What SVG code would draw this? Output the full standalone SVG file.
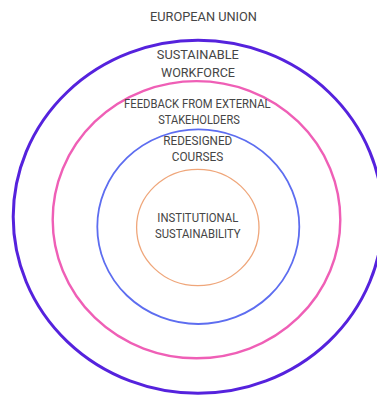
<svg xmlns="http://www.w3.org/2000/svg" width="377" height="397" viewBox="0 0 377 397">
<style>
.ring{fill:none}
.lbl{font-family:Roboto,"Liberation Sans",sans-serif;font-size:13.6px;fill:#454545;text-anchor:middle}
</style>
<rect width="377" height="397" fill="#ffffff"/>
<g id="european-union">
<text class="lbl" x="203.5" y="20.6" textLength="107" lengthAdjust="spacingAndGlyphs">EUROPEAN UNION</text>
</g>
<g id="sustainable-workforce">
<ellipse class="ring" cx="198" cy="216.8" rx="184.8" ry="176.5" stroke="#5522dd" stroke-width="3"/>
<text class="lbl" x="197.8" y="59.2" textLength="82" lengthAdjust="spacingAndGlyphs">SUSTAINABLE</text>
<text class="lbl" x="198" y="77.2" textLength="74" lengthAdjust="spacingAndGlyphs">WORKFORCE</text>
</g>
<g id="feedback-external-stakeholders">
<ellipse class="ring" cx="196.5" cy="219.7" rx="143.8" ry="138.6" stroke="#ef5fb6" stroke-width="2.4"/>
<text class="lbl" x="197.3" y="108.4" textLength="146.5" lengthAdjust="spacingAndGlyphs">FEEDBACK FROM EXTERNAL</text>
<text class="lbl" x="199" y="124.4" textLength="81.5" lengthAdjust="spacingAndGlyphs">STAKEHOLDERS</text>
</g>
<g id="redesigned-courses">
<ellipse class="ring" cx="198.3" cy="226.7" rx="101" ry="97.3" stroke="#5d6df0" stroke-width="1.8"/>
<text class="lbl" x="197.8" y="145.2" textLength="69" lengthAdjust="spacingAndGlyphs">REDESIGNED</text>
<text class="lbl" x="197.5" y="161.2" textLength="51.5" lengthAdjust="spacingAndGlyphs">COURSES</text>
</g>
<g id="institutional-sustainability">
<ellipse class="ring" cx="197.8" cy="227.5" rx="61.2" ry="58.2" stroke="#efa67a" stroke-width="1.3"/>
<text class="lbl" x="197.8" y="221.7" textLength="81" lengthAdjust="spacingAndGlyphs">INSTITUTIONAL</text>
<text class="lbl" x="197.8" y="237.7" textLength="85.5" lengthAdjust="spacingAndGlyphs">SUSTAINABILITY</text>
</g>
</svg>
